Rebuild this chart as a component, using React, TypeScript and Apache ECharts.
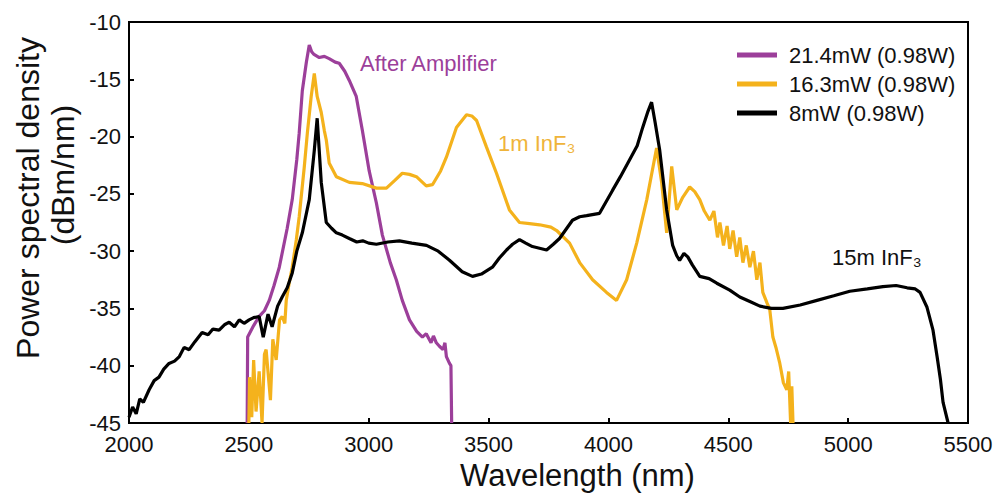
import React, { useEffect, useRef } from "react";
import * as echarts from "echarts";

// ---------- data (wavelength in nm, power spectral density in dBm/nm) ----------
const seriesNames = ["21.4mW (0.98W)", "16.3mW (0.98W)", "8mW (0.98W)"];
const seriesColors = ["#9C3F9A", "#F4B21C", "#000000"];

const purpleWl = [2493, 2495, 2520, 2543, 2565, 2585, 2605, 2627, 2660, 2681, 2700, 2710, 2723, 2740, 2752, 2762, 2770, 2794, 2815, 2835, 2860, 2877, 2900, 2919, 2948, 2973, 3002, 3032, 3057, 3090, 3115, 3140, 3170, 3200, 3224, 3240, 3260, 3270, 3282, 3295, 3310, 3318, 3324, 3337, 3343, 3346];
const purpleDb = [-45, -37.5, -36.5, -35.7, -35.2, -34.3, -33.0, -31.4, -28.0, -25.5, -22.0, -19.7, -16.0, -13.5, -12.0, -12.6, -12.8, -13.1, -13.0, -13.2, -13.5, -13.6, -14.3, -15.1, -16.5, -19.4, -23.0, -25.8, -28.6, -31.0, -32.5, -34.3, -36.0, -37.0, -37.5, -37.2, -38.0, -37.4, -38.0, -38.3, -38.6, -38.0, -39.2, -39.8, -40.0, -45];

const orangeWl = [2500, 2503, 2512, 2520, 2530, 2543, 2555, 2565, 2572, 2590, 2600, 2614, 2628, 2639, 2650, 2656, 2668, 2681, 2698, 2710, 2731, 2744, 2760, 2773, 2785, 2802, 2815, 2823, 2835, 2865, 2919, 2973, 3032, 3074, 3110, 3140, 3170, 3199, 3240, 3266, 3300, 3324, 3366, 3408, 3430, 3450, 3491, 3533, 3587, 3629, 3671, 3713, 3760, 3784, 3838, 3880, 3934, 3992, 4034, 4076, 4118, 4160, 4201, 4222, 4243, 4264, 4285, 4310, 4339, 4360, 4381, 4400, 4423, 4440, 4455, 4465, 4480, 4495, 4506, 4520, 4535, 4548, 4561, 4575, 4590, 4605, 4619, 4632, 4644, 4661, 4673, 4686, 4700, 4715, 4730, 4744, 4752, 4760, 4765, 4770];
const orangeDb = [-45, -41, -44.5, -39.5, -44, -40.5, -45, -39, -38.6, -43, -37.7, -39.5, -36, -35.7, -36.3, -34.3, -32.8, -31.4, -29.0, -27.0, -22.7, -19.7, -16.5, -14.5, -16.5, -17.9, -19.5, -20.3, -22.3, -23.5, -24.0, -24.1, -24.5, -24.5, -23.8, -23.2, -23.3, -23.5, -24.3, -24.2, -23.0, -21.8, -19.2, -18.1, -18.2, -18.6, -20.9, -23.2, -26.4, -27.5, -27.6, -27.7, -27.9, -28.2, -29.3, -31.0, -32.5, -33.6, -34.3, -32.5, -29.3, -25.5, -21.0, -24.0, -28.4, -22.6, -26.4, -25.3, -24.4, -24.8, -25.5, -26.5, -27.3, -26.5, -28.8, -27.5, -29.5, -27.8, -29.8, -28.2, -30.5, -28.8, -31.0, -29.5, -31.4, -30.0, -32.5, -31.0, -33.6, -34.5, -35.1, -37.5, -38.5, -39.8, -41.5, -42.1, -40.5, -45, -41.8, -45];

const blackWl = [2000, 2015, 2030, 2045, 2060, 2084, 2105, 2125, 2145, 2167, 2190, 2210, 2230, 2251, 2275, 2305, 2330, 2350, 2376, 2400, 2418, 2440, 2460, 2480, 2501, 2520, 2543, 2560, 2580, 2597, 2620, 2639, 2660, 2681, 2700, 2723, 2752, 2773, 2785, 2802, 2823, 2845, 2865, 2890, 2919, 2950, 2975, 3000, 3032, 3080, 3128, 3180, 3241, 3290, 3337, 3390, 3433, 3470, 3516, 3545, 3575, 3600, 3629, 3655, 3683, 3742, 3770, 3796, 3850, 3880, 3909, 3963, 4017, 4050, 4089, 4120, 4143, 4165, 4180, 4195, 4214, 4243, 4268, 4285, 4297, 4315, 4331, 4350, 4381, 4420, 4452, 4506, 4548, 4590, 4632, 4680, 4728, 4800, 4870, 4940, 5007, 5080, 5145, 5200, 5246, 5280, 5300, 5329, 5354, 5371, 5385, 5396, 5417];
const blackDb = [-44.5, -43.6, -44.2, -42.9, -43.2, -42.1, -41.3, -41.0, -40.3, -39.8, -39.6, -39.2, -38.4, -38.6, -37.9, -37.1, -37.3, -36.8, -36.9, -36.4, -36.2, -36.6, -36.0, -36.3, -36.0, -35.8, -35.7, -37.5, -35.5, -36.6, -34.8, -34.0, -33.2, -31.9, -30.0, -28.4, -25.5, -21.2, -18.4, -24.0, -27.5, -28.0, -28.4, -28.6, -28.9, -29.2, -29.1, -29.3, -29.4, -29.2, -29.1, -29.3, -29.5, -30.0, -30.8, -31.8, -32.2, -32.0, -31.4, -30.6, -29.9, -29.4, -29.0, -29.3, -29.6, -29.9, -29.4, -28.9, -27.3, -27.0, -26.9, -26.7, -24.7, -23.5, -22.0, -20.8, -19.2, -17.8, -17.0, -18.8, -21.2, -26.4, -29.5, -30.4, -30.8, -30.2, -30.5, -31.2, -32.2, -32.4, -32.8, -33.4, -34.0, -34.4, -34.8, -35.0, -35.0, -34.7, -34.3, -33.9, -33.5, -33.3, -33.1, -33.0, -33.2, -33.3, -33.6, -34.9, -36.9, -39.2, -41.2, -43.2, -45];

const xMin = 2000;
const xMax = 5500;
const xStep = 500;
const yMin = -45;
const yMax = -10;
const yStep = 5;

const zip = (a: number[], b: number[]) => a.map((v, i) => [v, b[i]]);

export default function App() {
  const ref = useRef<HTMLDivElement>(null);

  useEffect(() => {
    if (!ref.current) return;
    const chart = echarts.init(ref.current, undefined, { renderer: "svg" });
    const font = "'Liberation Sans', Arial, Helvetica, sans-serif";
    const datasets = [zip(purpleWl, purpleDb), zip(orangeWl, orangeDb), zip(blackWl, blackDb)];

    chart.setOption({
      animation: false,
      backgroundColor: "#ffffff",
      textStyle: { fontFamily: font },
      grid: {
        left: 129,
        right: 32,
        top: 22,
        bottom: 75,
        containLabel: false,
        outerBoundsMode: "none",
        show: true,
        borderColor: "#000",
        borderWidth: 2,
        backgroundColor: "transparent",
      },
      legend: {
        orient: "vertical",
        left: 737,
        top: 44,
        padding: 0,
        itemGap: 7,
        itemWidth: 40,
        itemHeight: 5,
        icon: "rect",
        textStyle: { fontSize: 22, fontFamily: font, color: "#111", padding: [0, 0, 0, 7], lineHeight: 22 },
        data: seriesNames,
      },
      xAxis: {
        type: "value",
        min: xMin,
        max: xMax,
        interval: xStep,
        name: "Wavelength (nm)",
        nameLocation: "middle",
        nameGap: 35,
        nameTextStyle: { fontSize: 31, color: "#111", fontFamily: font, padding: [0, 0, 0, 58] },
        axisLine: { show: true, lineStyle: { color: "#000", width: 2 } },
        axisTick: { show: true, inside: true, length: 5, lineStyle: { color: "#000", width: 2 } },
        axisLabel: {
          fontSize: 22,
          color: "#111",
          margin: 10,
          fontFamily: font,
          formatter: (v: number) => String(v),
        },
        splitLine: { show: false },
      },
      yAxis: {
        type: "value",
        min: yMin,
        max: yMax,
        interval: yStep,
        axisLine: { show: true, lineStyle: { color: "#000", width: 2 } },
        axisTick: { show: true, inside: true, length: 5, lineStyle: { color: "#000", width: 2 } },
        axisLabel: { fontSize: 22, color: "#111", margin: 8, fontFamily: font, formatter: (v: number) => String(v) },
        splitLine: { show: false },
      },
      series: datasets.map((d, i) => ({
        name: seriesNames[i],
        type: "line",
        data: d,
        showSymbol: false,
        symbol: "none",
        color: seriesColors[i],
        lineStyle: { color: seriesColors[i], width: 3.2 },
        z: 2 + i,
      })),
      graphic: [
        {
          type: "text",
          x: 28,
          y: 198,
          rotation: Math.PI / 2,
          style: {
            text: "Power spectral density",
            font: `32px ${font}`,
            fill: "#111",
            textAlign: "center",
            textVerticalAlign: "middle",
          },
        },
        {
          type: "text",
          x: 63,
          y: 175,
          rotation: Math.PI / 2,
          style: {
            text: "(dBm/nm)",
            font: `32px ${font}`,
            fill: "#111",
            textAlign: "center",
            textVerticalAlign: "middle",
          },
        },
        {
          type: "text",
          x: 360,
          y: 63,
          style: {
            text: "After Amplifier",
            font: `22px ${font}`,
            fill: "#9C3F9A",
            textAlign: "left",
            textVerticalAlign: "middle",
          },
        },
        {
          type: "text",
          x: 498,
          y: 143,
          style: {
            text: "1m InF₃",
            font: `22px ${font}`,
            fill: "#EFB43A",
            textAlign: "left",
            textVerticalAlign: "middle",
          },
        },
        {
          type: "text",
          x: 832,
          y: 257,
          style: {
            text: "15m InF₃",
            font: `22px ${font}`,
            fill: "#111",
            textAlign: "left",
            textVerticalAlign: "middle",
          },
        },
      ],
    });

    return () => chart.dispose();
  }, []);

  return (
    <div
      ref={ref}
      style={{ position: "fixed", left: 0, top: 0, width: 1000, height: 498, background: "#fff" }}
    />
  );
}
